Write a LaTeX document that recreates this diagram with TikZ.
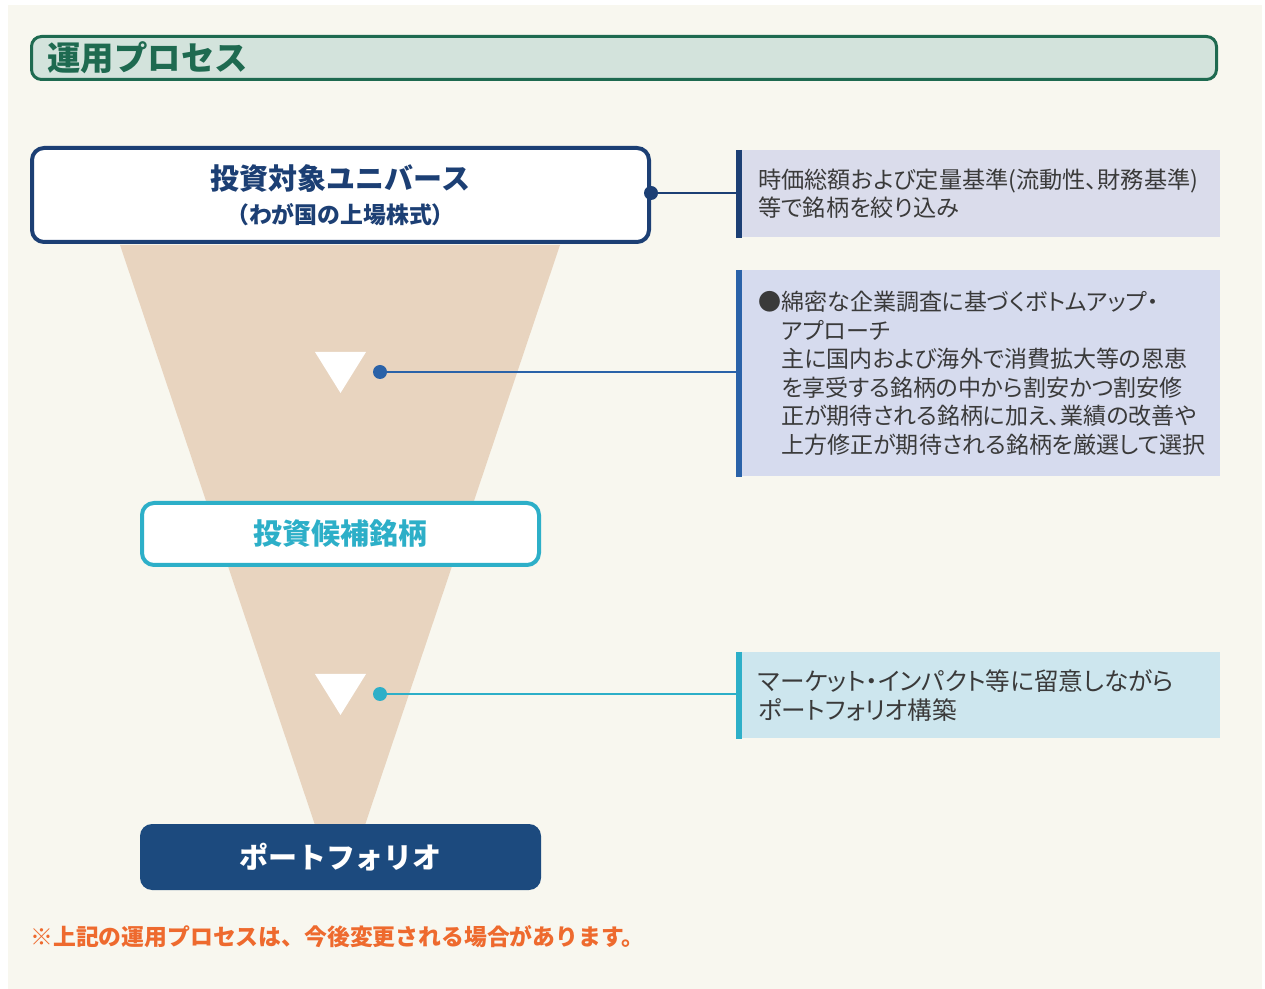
\documentclass[tikz,border=0pt]{standalone}
\usepackage{fontspec}
\setmainfont{Noto Sans CJK JP}
\newfontfamily\jpprop[RawFeature=+palt]{Noto Sans CJK JP}
\usetikzlibrary{positioning}

\definecolor{cream}{HTML}{F8F7EF}
\definecolor{titlefill}{HTML}{D3E3DC}
\definecolor{titlegreen}{HTML}{1E6A50}
\definecolor{funnelbeige}{HTML}{E8D4BF}
\definecolor{navy}{HTML}{1C3F74}
\definecolor{midblue}{HTML}{2A62A8}
\definecolor{teal}{HTML}{2DAFC8}
\definecolor{notenavy}{HTML}{DADCEB}
\definecolor{noteblue}{HTML}{D6DBEE}
\definecolor{noteteal}{HTML}{CDE6EE}
\definecolor{portfolioblue}{HTML}{1C4A7E}
\definecolor{warnorange}{HTML}{EE6A2E}
\definecolor{textgray}{HTML}{3A3A3A}

\newlength\unitpx
\setlength\unitpx{0.02cm}

\begin{document}
\begin{tikzpicture}[x=0.02cm, y=-0.02cm, every node/.style={inner sep=0pt}]
    \tikzstyle{stage}=[rounded corners=12\unitpx, line width=4\unitpx, fill=white, align=center]
    \tikzstyle{note}=[anchor=north west, minimum width=482\unitpx, inner xsep=20\unitpx, text width=442\unitpx, align=left, text=textgray, font=\jpprop\fontsize{13.5}{16.2}\selectfont]
    \tikzstyle{dot}=[circle, minimum size=14\unitpx]
    \tikzstyle{link}=[line width=2\unitpx]
    \tikzstyle{bar}=[line width=6\unitpx]

    \useasboundingbox (0,0) rectangle (1265,989);
    \fill[cream] (8,5) rectangle (1262,989);

% Title
    \node[draw=titlegreen, fill=titlefill, line width=3\unitpx, rounded corners=10\unitpx,
          minimum width=1185\unitpx, minimum height=43\unitpx, text width=1153\unitpx,
          align=left, text=titlegreen, font=\fontsize{19}{22}\selectfont\bfseries]
        (title) at (624,58) {運用プロセス};

% Funnel
    \fill[funnelbeige] (120,245) -- (560,245) -- (365,825) -- (315,825) -- cycle;
    \foreach \y in {352,674}
        \fill[white] (315,\y) -- (366,\y) -- (340.5,\y+41) -- cycle;

% Stages
    \node[stage, draw=navy, text=navy, minimum width=617\unitpx, minimum height=94\unitpx]
        (U) at (340.5,195) {{\fontsize{16.5}{20}\selectfont\bfseries 投資対象ユニバース}\\[9\unitpx]
        {\fontsize{13}{16}\selectfont\bfseries （わが国の上場株式）}};
    \node[stage, draw=teal, text=teal, minimum width=397\unitpx, minimum height=62\unitpx,
          font=\fontsize{16.5}{20}\selectfont\bfseries]
        (C) at (340.5,534) {投資候補銘柄};
    \node[stage, fill=portfolioblue, text=white, line width=0pt, minimum width=401\unitpx, minimum height=66\unitpx,
          font=\fontsize{16.5}{20}\selectfont\bfseries]
        (P) at (340.5,857) {ポートフォリオ};

% Notes
    \node[note, fill=notenavy, minimum height=87\unitpx, font=\jpprop\fontsize{13.2}{16.2}\selectfont] (N-1) at (738,150)
        {時価総額および定量基準(流動性、財務基準)\\等で銘柄を絞り込み};
    \node[note, fill=noteblue, minimum height=206\unitpx, font=\jpprop\fontsize{13.1}{16.2}\selectfont] (N-2) at (738,270)
        {●綿密な企業調査に基づくボトムアップ・\\
        \phantom{●}アプローチ\\
        \phantom{●}主に国内および海外で消費拡大等の恩恵\\
        \phantom{●}を享受する銘柄の中から割安かつ割安修\\
        \phantom{●}正が期待される銘柄に加え、業績の改善や\\
        \phantom{●}上方修正が期待される銘柄を厳選して選択};
    \node[note, fill=noteteal, minimum height=86\unitpx, font=\jpprop\fontsize{14}{16.2}\selectfont] (N-3) at (738,652)
        {マーケット・インパクト等に留意しながら\\ポートフォリオ構築};

    \draw[bar, navy] ([xshift=1\unitpx]N-1.north west) -- ([xshift=1\unitpx]N-1.south west);
    \draw[bar, midblue] ([xshift=1\unitpx]N-2.north west) -- ([xshift=1\unitpx]N-2.south west);
    \draw[bar, teal] ([xshift=1\unitpx]N-3.north west) -- ([xshift=1\unitpx]N-3.south west);

% Dots and links
    \node[dot, fill=navy] (D-1) at ([yshift=2\unitpx]U.east) {};
    \node[dot, fill=midblue] (D-2) at (380,372) {};
    \node[dot, fill=teal] (D-3) at (380,694) {};

    \draw[link, navy] (D-1) -- (D-1 -| N-1.west);
    \draw[link, midblue] (D-2) -- (D-2 -| N-2.west);
    \draw[link, teal] (D-3) -- (D-3 -| N-3.west);

% Remark
    \node[anchor=west, text=warnorange, font=\fontsize{13}{16}\selectfont\bfseries]
        (remark) at (30,937) {※上記の運用プロセスは、今後変更される場合があります。};

\end{tikzpicture}
\end{document}
